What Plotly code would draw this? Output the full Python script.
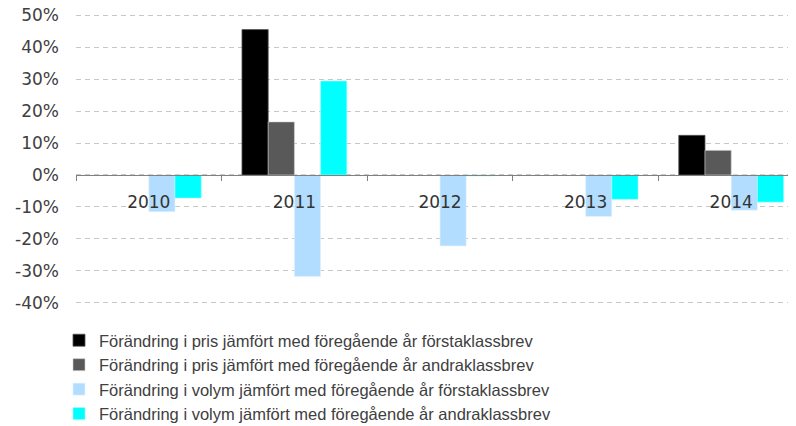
import plotly.graph_objects as go

years = ["2010", "2011", "2012", "2013", "2014"]
series_names = [
    "Förändring i pris jämfört med föregående år förstaklassbrev",
    "Förändring i pris jämfört med föregående år andraklassbrev",
    "Förändring i volym jämfört med föregående år förstaklassbrev",
    "Förändring i volym jämfört med föregående år andraklassbrev",
]
pris_forsta = [None, 45.5, None, None, 12.4]
pris_andra = [None, 16.6, None, None, 7.7]
volym_forsta = [-11.5, -31.8, -22.2, -13.0, -11.0]
volym_andra = [-7.2, 29.4, -0.3, -7.6, -8.5]
y_tick_values = [-40, -30, -20, -10, 0, 10, 20, 30, 40, 50]
y_tick_labels = ["-40%", "-30%", "-20%", "-10%", "0%", "10%", "20%", "30%", "40%", "50%"]
colors = ["#000000", "#595959", "#b3ddff", "#00ffff"]
line_colors = ["#555555", "#d0d0d0", "#e6f3ff", "#2f8f8f"]
line_widths = [0.8, 0.6, 0.6, 0.6]

values = [pris_forsta, pris_andra, volym_forsta, volym_andra]

fig = go.Figure()
for name, vals, c, lc, lw in zip(series_names, values, colors, line_colors, line_widths):
    fig.add_trace(go.Bar(
        x=years, y=vals, name=name,
        marker=dict(color=c, line=dict(color=lc if c != "#00ffff" else "#9ffcfc", width=lw)),
    ))

ymin, ymax = -41, 51
fig.update_layout(
    width=796, height=426,
    margin=dict(l=68, r=0, t=4, b=128, autoexpand=False),
    paper_bgcolor="white", plot_bgcolor="white",
    barmode="group", bargap=0.28, bargroupgap=0,
    font=dict(family="DejaVu Sans", color="#404040"),
    showlegend=True,
    legend=dict(
        orientation="v", xref="container", yref="container",
        x=51 / 796, y=1 - 315 / 426, xanchor="left", yanchor="top",
        font=dict(family="Liberation Sans", size=16.5, color="#404040"),
        traceorder="normal", bgcolor="rgba(0,0,0,0)",
    ),
    xaxis=dict(
        type="category", range=[-0.5, 4.5],
        anchor="free", position=(0 - ymin) / (ymax - ymin),
        showline=True, linecolor="#808080", linewidth=1.4,
        ticks="outside", tickson="boundaries", ticklen=5, tickcolor="#808080",
        showgrid=False, tickangle=0, automargin=False,
        tickfont=dict(family="DejaVu Sans", size=17, color="#333333"),
        ticklabelstandoff=11,
    ),
    yaxis=dict(
        range=[ymin, ymax], tickmode="array",
        tickvals=y_tick_values, ticktext=y_tick_labels,
        showgrid=True, gridcolor="#c8c8c8", griddash="5px,4px", gridwidth=1,
        zeroline=False, showline=False, ticks="", automargin=False,
        ticklabeloverflow="allow",
        tickfont=dict(family="DejaVu Sans", size=17, color="#404040"),
        ticklabelstandoff=16,
    ),
)

fig.write_html("out.html")
